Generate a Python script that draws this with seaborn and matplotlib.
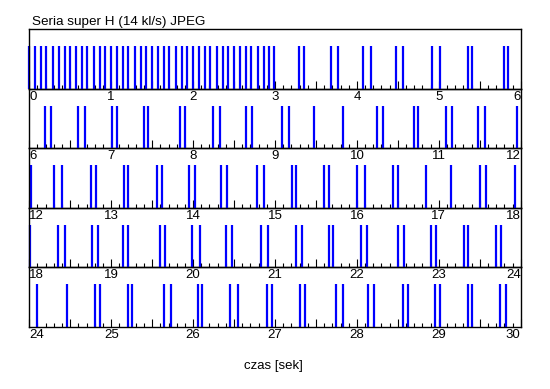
import numpy as np
import matplotlib
matplotlib.use("Agg")
import matplotlib.pyplot as plt
import seaborn as sns
from matplotlib.ticker import FixedLocator, MultipleLocator

sns.set_theme(style="white")
plt.rcParams['font.family'] = ['Liberation Sans', 'DejaVu Sans']

title = "Seria super H (14 kl/s) JPEG"
xlabel = "czas [sek]"

# frame capture times [s]
burst = [0.00, 0.07, 0.14, 0.21, 0.29, 0.36, 0.43, 0.50, 0.57, 0.64, 0.71,
         0.79, 0.86, 0.93, 1.00, 1.07, 1.14, 1.21, 1.29, 1.36, 1.43, 1.50,
         1.57, 1.64, 1.71, 1.79, 1.86, 1.93, 2.00, 2.07, 2.14, 2.21, 2.29,
         2.36, 2.43, 2.50, 2.57, 2.64, 2.71, 2.79, 2.86, 2.93, 2.99]
row1_rest = [3.29, 3.35, 3.68, 3.77, 4.08, 4.17, 4.48, 4.56, 4.92, 5.01,
             5.36, 5.41, 5.79, 5.85]
row2 = [6.19, 6.26, 6.59, 6.68, 7.01, 7.07, 7.40, 7.45, 7.84, 7.90, 8.24,
        8.33, 8.65, 8.72, 9.09, 9.17, 9.48, 9.83, 10.24, 10.32, 10.70, 10.75,
        11.09, 11.16, 11.48, 11.56, 11.95]
row3 = [12.02, 12.30, 12.40, 12.75, 12.82, 13.16, 13.21, 13.56, 13.62, 13.95,
        14.02, 14.34, 14.41, 14.78, 14.86, 15.21, 15.26, 15.60, 15.66, 16.00,
        16.10, 16.44, 16.50, 16.84, 17.15, 17.50, 17.58, 17.93]
row4 = [18.01, 18.35, 18.43, 18.77, 18.84, 19.15, 19.21, 19.60, 19.66, 19.99,
        20.08, 20.40, 20.47, 20.83, 20.92, 21.26, 21.33, 21.66, 21.71, 22.05,
        22.12, 22.50, 22.57, 22.90, 22.97, 23.31, 23.36, 23.70, 23.76]
row5 = [24.09, 24.46, 24.80, 24.86, 25.21, 25.26, 25.64, 25.73, 26.06, 26.11,
        26.45, 26.55, 26.90, 26.96, 27.31, 27.37, 27.75, 27.83, 28.14, 28.21,
        28.56, 28.62, 28.95, 29.02, 29.36, 29.41, 29.75, 29.82]

row_starts = [0, 6, 12, 18, 24]
row_span = 6
frames = burst + row1_rest + row2 + row3 + row4 + row5

fig = plt.figure(figsize=(5.5, 3.89), dpi=100, facecolor='white')
W, H = 550.0, 389.0
left, right = 29.3 / W, 520.7 / W
top_px, bot_px = 29.0, 326.5
row_h = (bot_px - top_px) / len(row_starts)

times = np.array(frames)
for i, start in enumerate(row_starts):
    y0 = 1 - (top_px + (i + 1) * row_h) / H
    ax = fig.add_axes([left, y0, right - left, row_h / H])
    ax.patch.set_alpha(0)
    ax.set_zorder(10 - i)
    sel = times[(times >= start - 0.001) & (times <= start + row_span + 0.001)]
    sns.rugplot(x=sel, ax=ax, height=1 / 1.4, color=(0, 0, 1),
                linewidth=1.6, expand_margins=False, clip_on=False)
    ax.set_xlim(start, start + row_span)
    ax.set_ylim(0, 1.4)
    ax.set_yticks([])
    majors = np.round(np.arange(start, start + row_span + 0.01, 0.5), 2)
    ax.xaxis.set_major_locator(FixedLocator(majors))
    ax.set_xticklabels([str(int(m)) if float(m).is_integer() else '' for m in majors])
    ax.xaxis.set_minor_locator(MultipleLocator(0.1))
    ax.tick_params(axis='x', which='major', direction='in', length=6, width=0.8,
                   color='black', labelsize=9.5, pad=1.5, labelcolor='black',
                   bottom=True, top=False)
    ax.tick_params(axis='x', which='minor', direction='in', length=3, width=0.8,
                   color='black', bottom=True, top=False)
    labels = ax.get_xticklabels()
    labels[0].set_horizontalalignment('left')
    labels[-1].set_horizontalalignment('right')
    for sp in ax.spines.values():
        sp.set_color('black')
        sp.set_linewidth(1.0)
        sp.set_visible(True)
    ax.set_xlabel('')

fig.text(31.5 / W, 1 - 25.5 / H, title, ha='left', va='baseline',
         fontsize=9.7, color='black')
fig.text(273 / W, 1 - 366 / H, xlabel, ha='center', va='center', fontsize=9.5,
         color='black')

fig.savefig("out.png", dpi=100, facecolor='white')
